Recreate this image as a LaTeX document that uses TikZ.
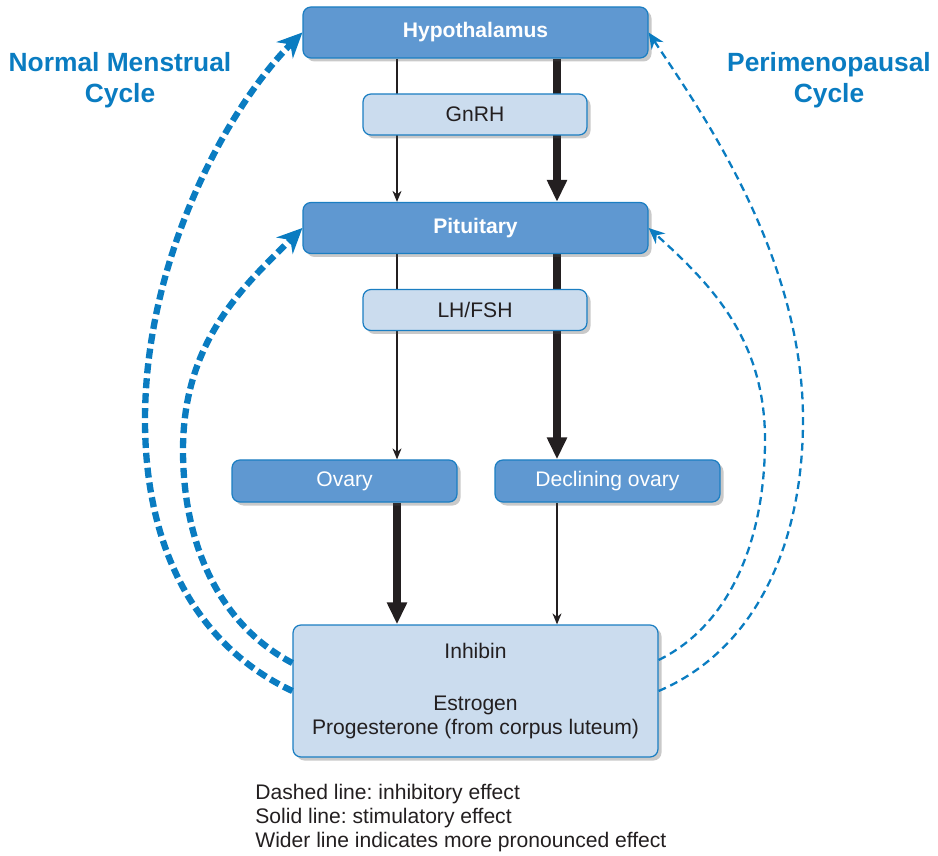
\documentclass[tikz,border=0pt]{standalone}
\usepackage{fontspec}
\setmainfont{Liberation Sans}
\usetikzlibrary{arrows.meta, calc, shadows, backgrounds}
\definecolor{boxBlue}{HTML}{5F98D1}
\definecolor{paleBlue}{HTML}{CBDCEE}
\definecolor{edgeBlue}{HTML}{1B7EC2}
\definecolor{cycleBlue}{HTML}{0A7CC1}
\definecolor{ink}{HTML}{231F20}
\def\lx{397}
\def\rx{557}
\frenchspacing

\begin{document}
\begin{tikzpicture}[
    x=0.2mm, y=-0.2mm,
    every node/.style={font=\fontsize{12}{13.6}\selectfont, text=ink},
    boxshadow/.style={drop shadow={shadow xshift=0.7mm, shadow yshift=-0.7mm,
                      fill=black!70, opacity=0.3}},
    gland/.style={draw=edgeBlue, line width=0.7pt, fill=boxBlue,
                  rounded corners=1.6mm, text=white, boxshadow,
                  minimum width=69mm, minimum height=10.2mm,
                  font=\bfseries\fontsize{12}{13.6}\selectfont},
    hormone/.style={draw=edgeBlue, line width=0.7pt, fill=paleBlue,
                    rounded corners=1.6mm, boxshadow,
                    minimum width=44.8mm, minimum height=8.2mm},
    organ/.style={draw=edgeBlue, line width=0.7pt, fill=boxBlue,
                  rounded corners=1.6mm, text=white, boxshadow,
                  minimum width=45mm, minimum height=8.4mm},
    feedback/.style={draw=edgeBlue, line width=0.7pt, fill=paleBlue,
                     rounded corners=1.6mm, boxshadow, align=center,
                     minimum width=73mm, minimum height=26.4mm},
    cycletitle/.style={align=center, text=cycleBlue,
                       font=\bfseries\fontsize{15}{17.6}\selectfont},
    stim/.style={-{Stealth[length=2.2mm,width=1.8mm]}, line width=0.85pt,
                 draw=ink},
    stimw/.style={-{Triangle[length=4.4mm,width=3.8mm]}, line width=4.2pt,
                  draw=ink},
    inh/.style={-{Stealth[length=3.2mm,width=2.8mm]}, line width=1.3pt,
                draw=cycleBlue, dash pattern=on 4.5pt off 2.8pt},
    inhw/.style={-{Stealth[length=5mm,width=4.6mm]}, line width=3.6pt,
                 draw=cycleBlue, dash pattern=on 5.7pt off 2.8pt},
    ]

\useasboundingbox (0,0) rectangle (938,856);

% ====================================================================
% Axis boxes
% ====================================================================
\node[gland] (hyp) at (475.5,32.5) {Hypothalamus};
\node[hormone] (gnrh) at (475,114.5) {GnRH};
\node[gland] (pit) at (475.5,228) {Pituitary};
\node[hormone] (lhfsh) at (475,310) {LH/FSH};
\node[organ] (ovary) at (344.5,481) {Ovary};
\node[organ] (dovary) at (607.5,481) {Declining ovary};
\node[feedback] (steroids) at (475.5,691)
  {Inhibin\\[16pt]Estrogen\\Progesterone (from corpus luteum)};

% Column positions of the two stimulatory paths
\coordinate (lcol) at (\lx,0);
\coordinate (rcol) at (\rx,0);

% ====================================================================
% Stimulatory (solid) paths, behind the hormone boxes
% ====================================================================
\begin{scope}[on background layer]
% normal cycle
\draw[stim] (hyp.south -| lcol) -- (pit.north -| lcol);
\draw[stim] (pit.south -| lcol) -- (ovary.north -| lcol);
\draw[stimw] (ovary.south -| lcol) -- (steroids.north -| lcol);
% perimenopausal cycle
\draw[stimw] (hyp.south -| rcol) -- (pit.north -| rcol);
\draw[stimw] (pit.south -| rcol) -- (dovary.north -| rcol);
\draw[stim] (dovary.south -| rcol) -- (steroids.north -| rcol);
\end{scope}

% ====================================================================
% Inhibitory (dashed) feedback loops
% ====================================================================
% Normal menstrual cycle -- wide dashes
\draw[inhw] (steroids.west)
  .. controls (205,650) and (145,560) .. (145,420)
  .. controls (145,255) and (230,105) .. (hyp.west);
\draw[inhw] ($(steroids.west)+(0,-28)$)
  .. controls (220,625) and (183,545) .. (183,450)
  .. controls (183,340) and (245,285) .. (pit.west);

% Perimenopausal cycle -- thin dashes
\draw[inh] (steroids.east)
  .. controls (755,650) and (803,545) .. (803,420)
  .. controls (803,255) and (700,110) .. (hyp.east);
\draw[inh] ($(steroids.east)+(0,-31)$)
  .. controls (730,625) and (765,540) .. (765,440)
  .. controls (765,340) and (712,285) .. (pit.east);

% ====================================================================
% Titles and key
% ====================================================================
\node[cycletitle] (normal) at (120,80) {Normal Menstrual\\Cycle};
\node[cycletitle] (peri) at (829,80) {Perimenopausal\\Cycle};

\node[anchor=north west, align=left, inner sep=0pt] (key) at (255,784)
  {Dashed line: inhibitory effect\\
   Solid line: stimulatory effect\\
   Wider line indicates more pronounced effect};

\end{tikzpicture}
\end{document}
